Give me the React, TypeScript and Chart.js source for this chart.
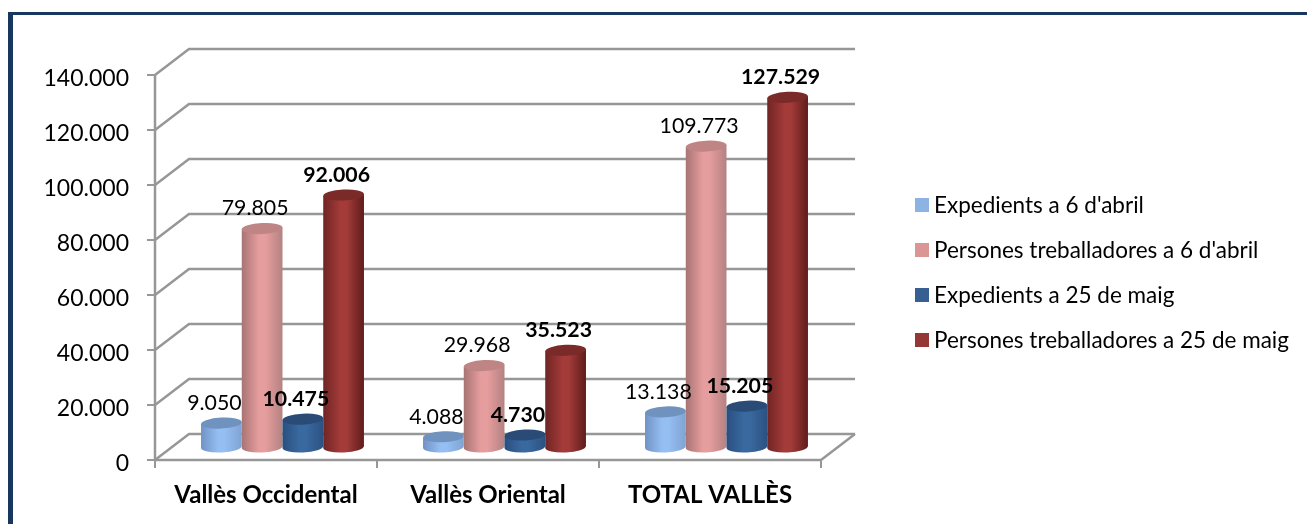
import React, { useEffect, useRef } from "react";
import { Chart, registerables } from "chart.js";

Chart.register(...registerables);

const categories = ["Vallès Occidental", "Vallès Oriental", "TOTAL VALLÈS"];
const expedientsAbril = [9050, 4088, 13138];
const personesAbril = [79805, 29968, 109773];
const expedientsMaig = [10475, 4730, 15205];
const personesMaig = [92006, 35523, 127529];
const seriesLabels = [
  "Expedients a 6 d'abril",
  "Persones treballadores a 6 d'abril",
  "Expedients a 25 de maig",
  "Persones treballadores a 25 de maig",
];
const seriesBold = [false, false, true, true];
const legendColors = ["#8DB3E2", "#DA9694", "#366092", "#953735"];
const bodyStops = [
  ["#7093C6", "#95BEF2", "#80A3D4"],
  ["#A87474", "#E69D9D", "#B48282"],
  ["#2A4F80", "#39699F", "#2C5182"],
  ["#702424", "#A33B39", "#5E1C1C"],
];
const capColors = ["#6F92BE", "#BE8584", "#2A4B76", "#7A2A29"];

const FONT = "Lato, 'Open Sans', sans-serif";
const DX = 34;
const DY = 26;
const BAR_DX = 16.5;
const BAR_DY = 12;
const RY = 5.5;
const TILT = -0.05;
const GRID = "#979797";

const fmt = (v: number) => String(v).replace(/\B(?=(\d{3})+(?!\d))/g, ".");

const scene = {
  id: "scene",
  beforeDatasetsDraw(chart: any) {
    const { ctx, scales, chartArea } = chart;
    const y = scales.y;
    ctx.save();
    ctx.strokeStyle = GRID;
    ctx.lineWidth = 2.5;
    y.ticks.forEach((t: any) => {
      const py = y.getPixelForValue(t.value);
      ctx.beginPath();
      ctx.moveTo(chartArea.left, py);
      ctx.lineTo(chartArea.left + DX, py - DY);
      ctx.lineTo(chartArea.right + DX, py - DY);
      ctx.stroke();
    });
    const by = y.getPixelForValue(0);
    ctx.beginPath();
    ctx.moveTo(chartArea.left, by);
    ctx.lineTo(chartArea.right, by);
    ctx.lineTo(chartArea.right + DX, by - DY);
    ctx.stroke();
    ctx.beginPath();
    ctx.moveTo(chartArea.left, y.getPixelForValue(140000));
    ctx.lineTo(chartArea.left, by);
    ctx.stroke();
    ctx.restore();
  },
  afterDatasetsDraw(chart: any) {
    const { ctx } = chart;
    ctx.save();
    const n = chart.data.labels.length;
    for (let i = 0; i < n; i++) {
      chart.data.datasets.forEach((_: any, d: number) => {
        const el = chart.getDatasetMeta(d).data[i];
        const cx = el.x + BAR_DX;
        const w = el.width / 2;
        const top = el.y - BAR_DY;
        const base = el.base - BAR_DY;
        const rise = Math.sin(TILT) * w;
        const g = ctx.createLinearGradient(cx - w, 0, cx + w, 0);
        const s = bodyStops[d];
        g.addColorStop(0, s[0]);
        g.addColorStop(0.42, s[1]);
        g.addColorStop(0.58, s[1]);
        g.addColorStop(1, s[2]);
        ctx.fillStyle = g;
        ctx.beginPath();
        ctx.moveTo(cx - w, top - rise);
        ctx.lineTo(cx - w, base - rise);
        ctx.ellipse(cx, base, w, RY, TILT, Math.PI, 0, true);
        ctx.lineTo(cx + w, top + rise);
        ctx.closePath();
        ctx.fill();
        ctx.fillStyle = capColors[d];
        ctx.beginPath();
        ctx.ellipse(cx, top, w, RY, TILT, 0, Math.PI * 2);
        ctx.fill();
      });
    }
    chart.data.datasets.forEach((ds: any, d: number) => {
      ctx.font = `${seriesBold[d] ? "bold " : ""}21.3px ${FONT}`;
      ctx.fillStyle = "#000";
      ctx.textAlign = "center";
      ctx.textBaseline = "middle";
      ds.data.forEach((v: number, i: number) => {
        const el = chart.getDatasetMeta(d).data[i];
        ctx.fillText(fmt(v), el.x + BAR_DX - 7, el.y - BAR_DY - 20);
      });
    });
    const rows = [205, 250, 295, 340];
    ctx.font = `22.5px ${FONT}`;
    ctx.textAlign = "left";
    chart.data.datasets.forEach((ds: any, d: number) => {
      ctx.fillStyle = legendColors[d];
      ctx.fillRect(915, rows[d] - 7, 14, 14);
      ctx.fillStyle = "#000";
      ctx.fillText(ds.label, 934, rows[d] + 1);
    });
    ctx.restore();
  },
};

export default function App() {
  const ref = useRef<HTMLCanvasElement>(null);
  useEffect(() => {
    const chart = new Chart(ref.current!, {
      type: "bar",
      data: {
        labels: categories,
        datasets: [expedientsAbril, personesAbril, expedientsMaig, personesMaig].map((data, i) => ({
          label: seriesLabels[i],
          data,
          backgroundColor: "transparent",
          borderWidth: 0,
          barPercentage: 1,
          categoryPercentage: 0.734,
        })),
      },
      options: {
        responsive: false,
        animation: false,
        layout: { padding: { left: 0, top: 75, right: 486, bottom: 0 } },
        plugins: { legend: { display: false }, tooltip: { enabled: false } },
        scales: {
          x: {
            afterFit: (s: any) => { s.height = 64; },
            grid: { drawOnChartArea: false, color: GRID, lineWidth: 2, tickLength: 8, offset: true },
            border: { display: false },
            ticks: { color: "#000", font: { family: FONT, size: 24, weight: "bold" }, padding: 13 },
          },
          y: {
            min: 0,
            max: 140000,
            afterFit: (s: any) => { s.width = 155; },
            grid: { drawOnChartArea: false, color: GRID, lineWidth: 2, tickLength: 8 },
            border: { display: false },
            ticks: {
              stepSize: 20000,
              color: "#000",
              font: { family: FONT, size: 23 },
              padding: 18,
              labelOffset: 4,
              callback: (v: any) => fmt(Number(v)),
            },
          },
        },
      },
      plugins: [scene],
    } as any);
    return () => chart.destroy();
  }, []);
  return (
    <div style={{ position: "absolute", left: 0, top: 0, width: 1307, height: 524, overflow: "hidden", background: "#fff" }}>
      <div style={{ position: "absolute", left: 8, top: 12, right: 0, bottom: 0, borderLeft: "5px solid #17375E", borderTop: "3px solid #17375E" }} />
      <canvas ref={ref} width={1307} height={524} style={{ position: "absolute", left: 0, top: 0, display: "block" }} />
    </div>
  );
}
